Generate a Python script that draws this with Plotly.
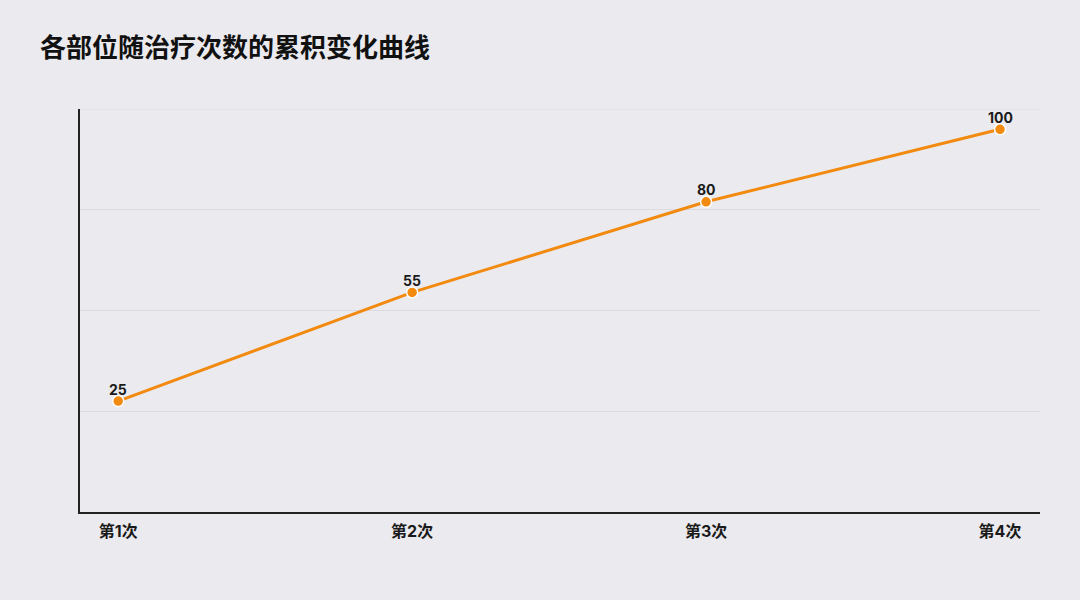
import numpy as np
import plotly.graph_objects as go

# data
sessions = ["第1次", "第2次", "第3次", "第4次"]
cumulative = [25, 55, 80, 100]
title_text = "各部位随治疗次数的累积变化曲线"

y_lo, y_hi = -5.6, 105.6
grid_vals = np.linspace(y_lo, y_hi, 5)

font_family = "Inter, Noto Sans CJK SC, sans-serif"

fig = go.Figure()
fig.add_trace(go.Scatter(
    x=sessions, y=cumulative,
    mode="lines+markers",
    line=dict(color="#f28a10", width=3),
    marker=dict(size=11, color="#f28a10", line=dict(color="white", width=1.5)),
    cliponaxis=False,
    hoverinfo="x+y",
))

# value labels just above each point
for s, v in zip(sessions, cumulative):
    fig.add_annotation(x=s, y=v, text="<b>%d</b>" % v, showarrow=False,
                       yanchor="middle", yshift=12,
                       font=dict(family=font_family, size=14, color="#1a1a1a"))

# top gridline sits on the plot edge, plotly drops it so draw it by hand
fig.add_shape(type="line", xref="x domain", x0=0, x1=1, y0=y_hi, y1=y_hi,
              line=dict(color="#dcdbdf", width=1), layer="below")

fig.update_layout(
    width=1080, height=600,
    paper_bgcolor="#ebeaee", plot_bgcolor="#ebeaee",
    margin=dict(l=80, r=40, t=109, b=88),
    showlegend=False,
    title=dict(text="<b>" + title_text + "</b>", x=40 / 1080, xref="container", xanchor="left",
               y=1 - 48 / 600, yref="container", yanchor="middle",
               font=dict(family=font_family, size=26, color="#111111")),
    xaxis=dict(range=[-0.13, 3.136], showgrid=False, showline=True,
               linecolor="#222222", linewidth=2, ticks="", zeroline=False,
               ticklabelstandoff=4,
               tickfont=dict(family=font_family, size=16, color="#1a1a1a", weight="bold")),
    yaxis=dict(range=[y_lo, y_hi], tickvals=grid_vals, showticklabels=False,
               showgrid=True, gridcolor="#dcdbdf", gridwidth=1, zeroline=False,
               showline=True, linecolor="#222222", linewidth=2, ticks=""),
)

fig.write_html("out.html", config={"displayModeBar": False},
               post_script="document.body.style.margin='0';")
